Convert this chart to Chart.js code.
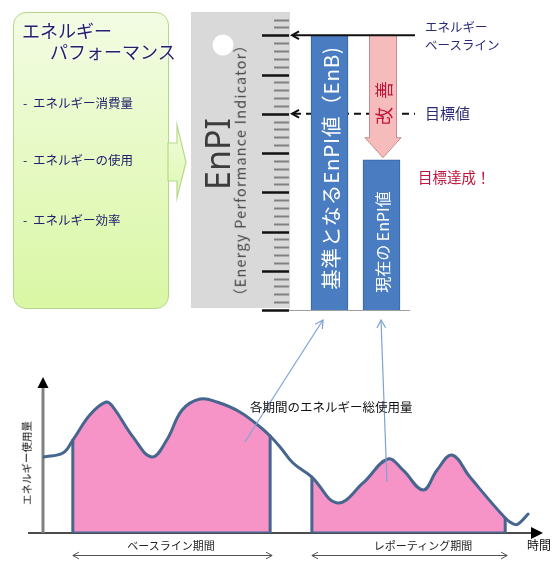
<!DOCTYPE html>
<html>
<head>
<meta charset="utf-8">
<script src="https://cdn.jsdelivr.net/npm/chart.js@4/dist/chart.umd.min.js"></script>
<style>
  body { margin: 0; width: 553px; height: 561px; position: relative; overflow: hidden; background: #fff;
         font-family: "Noto Sans CJK JP", "Noto Sans", sans-serif; }
  canvas { position: absolute; left: 0; }
  .t { position: absolute; white-space: nowrap; line-height: 1; }
  .l { transform: translateY(-50%); }
  .c { transform: translate(-50%, -50%); }
  .r { transform: translate(-50%, -50%) rotate(-90deg); }
  #perfBox { position: absolute; left: 13px; top: 12px; width: 156px; height: 297px; box-sizing: border-box;
             border: 1.5px solid #b3d68c; border-radius: 13px; background: linear-gradient(#f3fce3, #d9f7a4); }
  .navy { color: #22206a; }
  .title { font-size: 18px; text-shadow: 0 0 3px #fff, 0 0 2px #fff; }
  .item { font-size: 12.5px; }
</style>
</head>
<body>
<div id="perfBox"></div>
<canvas id="topChart" width="553" height="330" style="top:0"></canvas>
<canvas id="bottomChart" width="553" height="246" style="top:315px"></canvas>

<div class="t l navy title" style="left:22px;top:30px">エネルギー</div>
<div class="t l navy title" style="left:50px;top:51px">パフォーマンス</div>
<div class="t l navy item" style="left:23px;top:103px">-&nbsp; エネルギー消費量</div>
<div class="t l navy item" style="left:23px;top:160px">-&nbsp; エネルギーの使用</div>
<div class="t l navy item" style="left:23px;top:220px">-&nbsp; エネルギー効率</div>

<div class="t r" style="left:217px;top:154px;font-size:34px;color:#3c3c3c;font-family:'Noto Sans',sans-serif">EnPI</div>
<div class="t r" style="left:240px;top:170px;font-size:14.5px;color:#444;letter-spacing:1.2px">（Energy Performance Indicator）</div>

<div class="t r" style="left:330px;top:168px;font-size:20.5px;color:#fff;letter-spacing:0.8px">基準となるEnPI値（EnB)</div>
<div class="t r" style="left:382px;top:242px;font-size:16px;color:#fff">現在の EnPI値</div>
<div class="t r" style="left:383px;top:99px;font-size:18px;color:#c0143c;letter-spacing:8px">改善</div>

<div class="t l" style="left:425px;top:27px;font-size:12.5px;color:#2a2a78">エネルギー</div>
<div class="t l" style="left:425px;top:45px;font-size:12.5px;color:#2a2a78">ベースライン</div>
<div class="t l" style="left:425px;top:112px;font-size:15px;color:#2a2a78">目標値</div>
<div class="t l" style="left:418px;top:177px;font-size:14.5px;color:#c0143c">目標達成！</div>

<div class="t l" style="left:250px;top:407px;font-size:12.5px;color:#111">各期間のエネルギー総使用量</div>
<div class="t r" style="left:27px;top:463px;font-size:10.5px;color:#111">エネルギー使用量</div>
<div class="t c" style="left:171px;top:545px;font-size:11px;color:#222">ベースライン期間</div>
<div class="t c" style="left:423px;top:545px;font-size:11px;color:#222">レポーティング期間</div>
<div class="t l" style="left:527px;top:545px;font-size:12px;color:#111">時間</div>

<script>
// top: EnPI bars
const enpiLabels = ['EnB', 'EnPI']
const enpiValues = [7, 3.83]
const targetValue = 5
const rulerMax = 7.4

// bottom: energy use over time
const timeAxis = [0, 4, 6, 9.5, 12.7, 14.1, 18.1, 21.9, 24.9, 28, 31.6, 35, 39.6, 43.7, 45.7, 47.7, 50.3,
  54.1, 59.2, 64.4, 69.4, 72.4, 76.5, 79.3, 82.3, 85.9, 93, 94.6, 95.6, 97.6]
const energyUse = [51.4, 54.1, 62.8, 80, 88.5, 85.1, 64.9, 51.4, 62.8, 83.1, 90.5, 88.5, 81.8, 71.6, 65.5, 58.1, 47.3,
  37.8, 20.3, 33.8, 50.0, 42.6, 29.1, 42.6, 52.7, 37.8, 10.1, 6.1, 6.1, 12.8]
const baselinePeriod = [6, 45.7]
const reportingPeriod = [54.1, 93]
const leaderTargets = [[40.6, 61.5], [69.2, 34.5]]

const lineColor = '#46658f'
const fillColor = '#f694c7'

const arrowHead = (ctx, x, y, dx, dy, size) => {
  // open chevron pointing along (dx, dy)
  const a = Math.atan2(dy, dx)
  ctx.beginPath()
  ctx.moveTo(x - size * Math.cos(a - 0.5), y - size * Math.sin(a - 0.5))
  ctx.lineTo(x, y)
  ctx.lineTo(x - size * Math.cos(a + 0.5), y - size * Math.sin(a + 0.5))
  ctx.stroke()
}

const topDecor = {
  id: 'topDecor',
  beforeDatasetsDraw(chart) {
    const { ctx } = chart
    const y = chart.scales.y
    ctx.save()
    // green block arrow
    const g = ctx.createLinearGradient(0, 125, 0, 197)
    g.addColorStop(0, '#f1fcdc')
    g.addColorStop(1, '#dff8b0')
    ctx.fillStyle = g
    ctx.strokeStyle = '#b6da8c'
    ctx.lineWidth = 1.2
    ctx.beginPath()
    ctx.moveTo(168, 143); ctx.lineTo(177, 143); ctx.lineTo(177, 125); ctx.lineTo(186, 162)
    ctx.lineTo(177, 198); ctx.lineTo(177, 181); ctx.lineTo(168, 181)
    ctx.closePath()
    ctx.fill(); ctx.stroke()
    // ruler
    ctx.fillStyle = '#d9d9d9'
    ctx.fillRect(191, 12, 99, 296)
    ctx.fillStyle = '#fff'
    ctx.beginPath(); ctx.arc(223, 45, 10.5, 0, Math.PI * 2); ctx.fill()
    for (let i = 0; i <= rulerMax * 5; i++) {
      const py = Math.round(y.getPixelForValue(i / 5)) + 0.5
      ctx.beginPath()
      if (i % 5 === 0) {
        ctx.strokeStyle = '#111'; ctx.lineWidth = 2.5
        ctx.moveTo(262, py); ctx.lineTo(289, py)
      } else {
        ctx.strokeStyle = '#808080'; ctx.lineWidth = 2
        ctx.moveTo(274, py); ctx.lineTo(289, py)
      }
      ctx.stroke()
    }
    // bar baseline
    ctx.strokeStyle = '#a0a0a0'; ctx.lineWidth = 1
    ctx.beginPath(); ctx.moveTo(289, 310.5); ctx.lineTo(410, 310.5); ctx.stroke()
    // target dashed line
    const ty = y.getPixelForValue(targetValue)
    ctx.strokeStyle = '#111'; ctx.lineWidth = 2
    ctx.setLineDash([7, 5])
    ctx.beginPath(); ctx.moveTo(294, ty); ctx.lineTo(415, ty); ctx.stroke()
    ctx.setLineDash([])
    arrowHead(ctx, 292, ty, -1, 0, 8)
    ctx.restore()
  },
  afterDatasetsDraw(chart) {
    const { ctx } = chart
    const y = chart.scales.y
    const x = chart.scales.x
    ctx.save()
    // improvement arrow
    const cx = x.getPixelForValue(1) + 1.5
    const top = y.getPixelForValue(enpiValues[0])
    const tip = y.getPixelForValue(enpiValues[1]) - 2
    ctx.fillStyle = '#f6bcbc'
    ctx.strokeStyle = '#c98c8c'
    ctx.lineWidth = 1
    ctx.beginPath()
    ctx.moveTo(cx - 13.5, top); ctx.lineTo(cx + 13.5, top); ctx.lineTo(cx + 13.5, tip - 20)
    ctx.lineTo(cx + 18, tip - 20); ctx.lineTo(cx, tip); ctx.lineTo(cx - 18, tip - 20)
    ctx.lineTo(cx - 13.5, tip - 20); ctx.closePath()
    ctx.fill(); ctx.stroke()
    // baseline solid line
    ctx.strokeStyle = '#111'; ctx.lineWidth = 2
    ctx.beginPath(); ctx.moveTo(293, top); ctx.lineTo(415, top); ctx.stroke()
    arrowHead(ctx, 292, top, -1, 0, 8)
    ctx.restore()
  }
}

new Chart('topChart', {
  type: 'bar',
  data: {
    labels: enpiLabels,
    datasets: [{
      data: enpiValues,
      backgroundColor: '#4a7cc2',
      borderColor: '#3764a3',
      borderWidth: 1,
      barThickness: 37,
    }],
  },
  options: {
    responsive: false,
    animation: false,
    events: [],
    layout: { padding: { left: 303.5, right: 145.5, top: 0, bottom: 20 } },
    plugins: { legend: { display: false }, tooltip: { enabled: false } },
    scales: {
      x: { display: false },
      y: { display: false, min: 0, max: 7.9 },
    },
  },
  plugins: [topDecor],
})

const points = timeAxis.map((t, i) => ({ x: t, y: energyUse[i] }))
const inPeriod = (p) => points.filter((pt) => pt.x >= p[0] && pt.x <= p[1])
const energyAt = (t) => energyUse[timeAxis.indexOf(t)]
const edge = (p) => [
  { x: p[0], y: energyAt(p[0]) }, { x: p[0], y: 0 }, { x: p[1], y: 0 }, { x: p[1], y: energyAt(p[1]) },
]

const bottomDecor = {
  id: 'bottomDecor',
  beforeDatasetsDraw(chart) {
    const { ctx } = chart
    const x = chart.scales.x
    const y = chart.scales.y
    const x0 = x.getPixelForValue(0)
    const y0 = y.getPixelForValue(0)
    ctx.save()
    // x axis
    ctx.strokeStyle = '#111'; ctx.lineWidth = 1.5
    ctx.beginPath(); ctx.moveTo(28, y0); ctx.lineTo(533, y0); ctx.stroke()
    ctx.fillStyle = '#000'
    ctx.beginPath(); ctx.moveTo(543, y0); ctx.lineTo(531, y0 - 6); ctx.lineTo(531, y0 + 6); ctx.closePath(); ctx.fill()
    // y axis
    ctx.strokeStyle = '#808080'; ctx.lineWidth = 3
    ctx.beginPath(); ctx.moveTo(x0, y0); ctx.lineTo(x0, y.getPixelForValue(100) + 2); ctx.stroke()
    ctx.beginPath(); ctx.moveTo(x0, 62); ctx.lineTo(x0 - 5.5, 73); ctx.lineTo(x0 + 5.5, 73); ctx.closePath(); ctx.fill()
    // period arrows
    ctx.strokeStyle = '#555'; ctx.lineWidth = 1
    for (const p of [baselinePeriod, reportingPeriod]) {
      const a = x.getPixelForValue(p[0])
      const b = x.getPixelForValue(p[1]) + 2
      ctx.beginPath(); ctx.moveTo(a, 240.5); ctx.lineTo(b, 240.5); ctx.stroke()
      arrowHead(ctx, a, 240.5, -1, 0, 7)
      arrowHead(ctx, b, 240.5, 1, 0, 7)
    }
    ctx.restore()
  },
  afterDatasetsDraw(chart) {
    const { ctx } = chart
    const x = chart.scales.x
    const y = chart.scales.y
    const tips = [[323, 5], [381, 5]]
    ctx.save()
    ctx.strokeStyle = '#7ea2d4'; ctx.lineWidth = 1.2
    leaderTargets.forEach((lt, i) => {
      const ex = x.getPixelForValue(lt[0])
      const ey = y.getPixelForValue(lt[1])
      ctx.beginPath(); ctx.moveTo(ex, ey); ctx.lineTo(tips[i][0], tips[i][1]); ctx.stroke()
      arrowHead(ctx, tips[i][0], tips[i][1], tips[i][0] - ex, tips[i][1] - ey, 9)
    })
    ctx.restore()
  }
}

new Chart('bottomChart', {
  type: 'line',
  data: {
    datasets: [
      { data: points, borderColor: lineColor, borderWidth: 3, tension: 0.4, fill: false },
      { data: edge(baselinePeriod), borderColor: lineColor, borderWidth: 3, tension: 0, fill: false },
      { data: edge(reportingPeriod), borderColor: lineColor, borderWidth: 3, tension: 0, fill: false },
      { data: inPeriod(baselinePeriod), borderWidth: 0, tension: 0.4, fill: 'origin', backgroundColor: fillColor },
      { data: inPeriod(reportingPeriod), borderWidth: 0, tension: 0.4, fill: 'origin', backgroundColor: fillColor },
    ],
  },
  options: {
    responsive: false,
    animation: false,
    events: [],
    elements: { point: { radius: 0 }, line: { borderJoinStyle: 'round', borderCapStyle: 'round' } },
    layout: { padding: { left: 43, right: 13, top: 70, bottom: 28 } },
    plugins: { legend: { display: false }, tooltip: { enabled: false } },
    scales: {
      x: { type: 'linear', display: false, min: 0, max: 100 },
      y: { display: false, min: 0, max: 100 },
    },
  },
  plugins: [bottomDecor],
})
</script>
</body>
</html>
